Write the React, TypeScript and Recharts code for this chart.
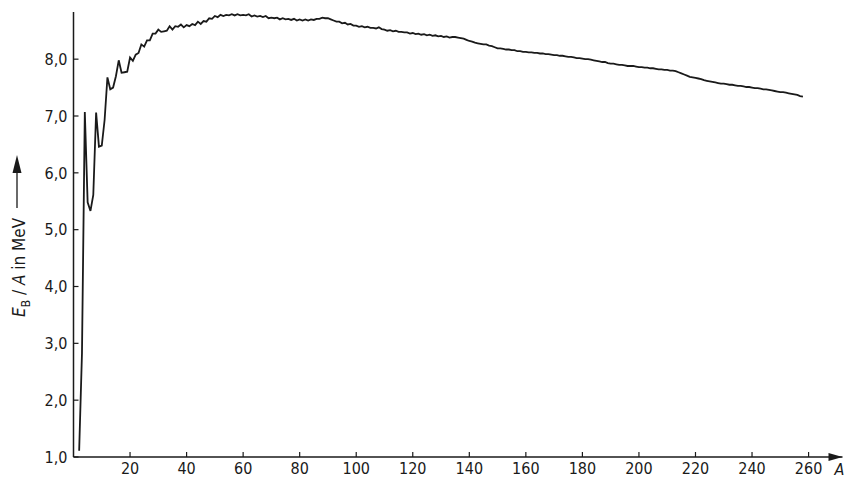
import { LineChart, Line, XAxis, YAxis } from 'recharts'

// binding energy per nucleon E_B/A in MeV, one value per mass number A
const FIRST_A = 2
const lightNuclei = [
  1.11, 2.83, 7.07, 5.48, 5.33, 5.61, 7.06, 6.46, 6.48, 6.93, // A 2-11
  7.68, 7.47, 7.5, 7.7, 7.98, 7.76, 7.77, 7.78, 8.03, 7.97, // A 12-21
  8.08, 8.11, 8.26, 8.22, 8.33, 8.33, 8.45, 8.45, 8.52, 8.48, // A 22-31
]
const mediumNuclei = [
  8.49, 8.5, 8.58, 8.52, 8.58, 8.57, 8.61, 8.56, 8.6, 8.58, // A 32-41
  8.62, 8.6, 8.66, 8.62, 8.67, 8.66, 8.72, 8.71, 8.76, 8.74, // A 42-51
  8.78, 8.76, 8.78, 8.77, 8.79, 8.77, 8.79, 8.77, 8.78, 8.77, // A 52-61
  8.79, 8.75, 8.77, 8.75, 8.76, 8.74, 8.76, 8.72, 8.73, 8.72, // A 62-71
  8.73, 8.7, 8.72, 8.7, 8.71, 8.69, 8.71, 8.68, 8.7, 8.68, // A 72-81
  8.7, 8.68, 8.7, 8.69, 8.71, 8.71, 8.73, 8.72, 8.72, 8.7, // A 82-91
  8.68, 8.66, 8.66, 8.63, 8.64, 8.61, 8.62, 8.59, 8.59, 8.57, // A 92-101
]
const heavyNuclei = [
  8.58, 8.56, 8.57, 8.55, 8.55, 8.54, 8.56, 8.53, 8.52, 8.5, // A 102-111
  8.51, 8.49, 8.5, 8.48, 8.48, 8.47, 8.47, 8.45, 8.46, 8.44, // A 112-121
  8.45, 8.43, 8.44, 8.42, 8.43, 8.41, 8.42, 8.4, 8.41, 8.39, // A 122-131
  8.4, 8.38, 8.39, 8.39, 8.38, 8.37, 8.36, 8.34, 8.32, 8.31, // A 132-141
  8.29, 8.28, 8.27, 8.26, 8.26, 8.24, 8.23, 8.21, 8.19, 8.19, // A 142-151
  8.18, 8.17, 8.17, 8.16, 8.16, 8.14, 8.14, 8.13, 8.13, 8.12, // A 152-161
  8.12, 8.11, 8.11, 8.1, 8.1, 8.09, 8.09, 8.08, 8.07, 8.07, // A 162-171
  8.06, 8.06, 8.05, 8.04, 8.04, 8.03, 8.02, 8.02, 8.01, 8.0, // A 172-181
]
const veryHeavyNuclei = [
  8.0, 7.99, 7.98, 7.97, 7.96, 7.95, 7.95, 7.93, 7.92, 7.92, // A 182-191
  7.91, 7.9, 7.9, 7.89, 7.88, 7.88, 7.88, 7.87, 7.86, 7.86, // A 192-201
  7.85, 7.85, 7.84, 7.84, 7.83, 7.82, 7.82, 7.81, 7.81, 7.8, // A 202-211
  7.8, 7.79, 7.77, 7.75, 7.73, 7.71, 7.69, 7.68, 7.67, 7.66, // A 212-221
  7.65, 7.63, 7.62, 7.61, 7.6, 7.59, 7.58, 7.57, 7.57, 7.56, // A 222-231
  7.55, 7.55, 7.54, 7.53, 7.53, 7.52, 7.51, 7.51, 7.5, 7.49, // A 232-241
  7.49, 7.48, 7.47, 7.47, 7.46, 7.45, 7.44, 7.43, 7.42, 7.42, // A 242-251
  7.41, 7.4, 7.39, 7.38, 7.37, 7.35, 7.34, // A 252-258
]

const xTicks = [20, 40, 60, 80, 100, 120, 140, 160, 180, 200, 220, 240, 260]
const yTicks = [1, 2, 3, 4, 5, 6, 7, 8]

const data = [...lightNuclei, ...mediumNuclei, ...heavyNuclei, ...veryHeavyNuclei].map((eb, i) => ({
  a: FIRST_A + i,
  eb,
}))

const INK = '#1a1a1a'
const FONT = "'Liberation Sans Narrow', 'DejaVu Sans Condensed', 'Liberation Sans', sans-serif"

function XTick({ x, y, payload }: any) {
  // tick marks point up into the plot
  return (
    <g>
      <line x1={x} x2={x} y1={y - 6} y2={y - 11} stroke={INK} strokeWidth={1.2} />
      <text x={x} y={y} dy="0.71em" textAnchor="middle" fontSize={16} fontFamily={FONT} fill={INK}>
        {payload.value}
      </text>
    </g>
  )
}

function YTick({ x, y, payload }: any) {
  return (
    <g>
      <line x1={x + 6} x2={x + 11} y1={y} y2={y} stroke={INK} strokeWidth={1.2} />
      <text x={x} y={y} dy="0.355em" textAnchor="end" fontSize={16} fontFamily={FONT} fill={INK}>
        {payload.value.toFixed(1).replace('.', ',')}
      </text>
    </g>
  )
}

function XArrowLabel({ viewBox }: any) {
  const end = viewBox.x + viewBox.width
  const y = viewBox.y
  return (
    <g>
      <polygon points={`${end - 14},${y - 4} ${end},${y} ${end - 14},${y + 4}`} fill={INK} />
      <text x={end - 8} y={y + 18} fontSize={16} fontStyle="italic" fontFamily={FONT} fill={INK}>
        A
      </text>
    </g>
  )
}

function YArrowLabel({ viewBox }: any) {
  const cx = viewBox.x + 25
  const cy = viewBox.y + viewBox.height - 140
  return (
    <g transform={`translate(${cx},${cy}) rotate(-90)`}>
      <text x={0} y={0} fontSize={17} fontFamily={FONT} fill={INK}>
        <tspan fontStyle="italic">E</tspan>
        <tspan fontSize={12} dy={5}>B</tspan>
        <tspan dy={-5}> / </tspan>
        <tspan fontStyle="italic">A</tspan>
        <tspan> in MeV</tspan>
      </text>
      <line x1={109} x2={150} y1={-8} y2={-8} stroke={INK} strokeWidth={1.3} />
      <polygon points="144,-12.5 162,-8 144,-3.5" fill={INK} />
    </g>
  )
}

export default function App() {
  return (
    <div style={{ position: 'absolute', left: 0, top: 0, background: '#fff' }}>
      <LineChart width={844} height={479} data={data} margin={{ top: 12, right: 1.5, bottom: 0, left: 0 }}>
        <XAxis
          dataKey="a"
          type="number"
          domain={[0, 272]}
          ticks={xTicks}
          height={22}
          tickSize={0}
          tickMargin={6}
          tick={<XTick />}
          axisLine={{ stroke: INK, strokeWidth: 1.5 }}
          tickLine={false}
          label={{ content: <XArrowLabel /> }}
        />
        <YAxis
          domain={[1, 8.83]}
          ticks={yTicks}
          width={73.5}
          tickSize={0}
          tickMargin={6}
          tick={<YTick />}
          axisLine={{ stroke: INK, strokeWidth: 1.5 }}
          tickLine={false}
          allowDataOverflow
          label={{ content: <YArrowLabel /> }}
        />
        <Line
          type="linear"
          dataKey="eb"
          stroke={INK}
          strokeWidth={1.8}
          dot={false}
          isAnimationActive={false}
        />
      </LineChart>
    </div>
  )
}
